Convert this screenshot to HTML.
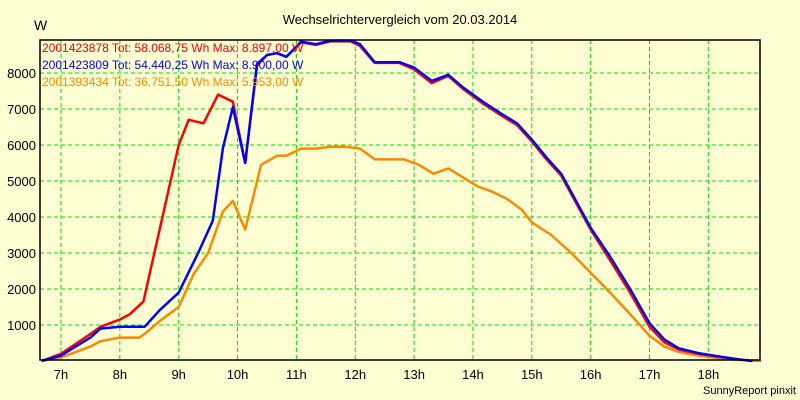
<!DOCTYPE html>
<html><head><meta charset="utf-8"><style>
body{margin:0;background:#ffffd4;}
svg{display:block;font-family:"Liberation Sans",sans-serif;}
</style></head><body>
<svg id="c" width="800" height="400">
<rect width="800" height="400" fill="#ffffd4"/>
<text x="400" y="24" text-anchor="middle" font-size="13">Wechselrichtervergleich vom 20.03.2014</text>
<text x="34" y="30" font-size="14">W</text>
<text x="796" y="394" text-anchor="end" font-size="11">SunnyReport pinxit</text>
<g id="grid"></g><g id="series"></g><g id="axes"></g>
<g font-size="12">
<text x="42" y="52" fill="#ff0000">2001423878 Tot: 58.068,75 Wh Max: 8.897,00 W</text>
<text x="42" y="69" fill="#0000ff">2001423809 Tot: 54.440,25 Wh Max: 8.900,00 W</text>
<text x="42" y="86" fill="#ff8800">2001393434 Tot: 36.751,50 Wh Max: 5.953,00 W</text>
</g>
</svg>
<script>
const xTicks=[7,8,9,10,11,12,13,14,15,16,17,18];
const yTicks=[1000,2000,3000,4000,5000,6000,7000,8000];
const redT=[6.67,7,7.5,7.67,8,8.17,8.4,9.0,9.17,9.42,9.67,9.92,10.13,10.33,10.5,10.67,10.83,11.08,11.33,11.58,11.92,12.08,12.33,12.75,13.0,13.3,13.58,13.83,14.17,14.5,14.75,15.0,15.25,15.5,15.75,16.0,16.33,16.67,17.0,17.25,17.5,17.83,18.17,18.5,18.75];
const redV=[0,200,750,950,1150,1300,1650,6000,6700,6600,7400,7200,5500,8200,8500,8550,8450,8850,8780,8880,8880,8750,8280,8280,8100,7720,7920,7560,7150,6800,6550,6100,5600,5150,4400,3650,2800,1900,950,520,320,200,120,50,0];
const blueT=[6.67,7,7.5,7.67,8,8.42,8.67,9.0,9.33,9.58,9.75,9.92,10.13,10.33,10.5,10.67,10.83,11.08,11.33,11.58,11.92,12.08,12.33,12.75,13.0,13.3,13.58,13.83,14.17,14.5,14.75,15.0,15.25,15.5,15.75,16.0,16.33,16.67,17.0,17.25,17.5,17.83,18.17,18.5,18.75];
const blueV=[0,150,650,900,950,950,1400,1900,3000,3900,5900,7050,5500,8250,8500,8550,8450,8870,8800,8900,8900,8800,8300,8300,8150,7780,7950,7600,7200,6850,6600,6150,5650,5200,4450,3700,2900,2000,1050,600,350,220,130,50,0];
const orangeT=[6.67,7,7.5,7.67,8,8.33,8.42,8.67,9.0,9.25,9.5,9.75,9.92,10.13,10.4,10.67,10.83,11.08,11.33,11.58,11.83,12.08,12.33,12.83,13.08,13.33,13.58,13.83,14.08,14.33,14.58,14.83,15.0,15.33,15.67,16.0,16.33,16.67,17.0,17.25,17.5,17.83,18.17,18.5,18.9];
const orangeV=[0,100,400,550,650,650,750,1100,1500,2400,3000,4150,4450,3650,5450,5700,5700,5900,5900,5950,5950,5900,5600,5600,5450,5200,5350,5100,4850,4700,4500,4200,3850,3500,3000,2450,1900,1300,700,400,250,150,80,30,0];
const L=40,R=760,T=40,B=360;
const xs=h=>61+(h-7)*58.85;
const ys=v=>361-v*0.036;
const ns="http://www.w3.org/2000/svg";
function mk(tag,attrs,parent){const e=document.createElementNS(ns,tag);for(const k in attrs)e.setAttribute(k,attrs[k]);parent.appendChild(e);return e;}
const grid=document.getElementById('grid'),axes=document.getElementById('axes'),ser=document.getElementById('series');
xTicks.forEach(h=>{
 const l=mk('line',{x1:xs(h),x2:xs(h),y1:T,y2:B,stroke:'#00e000','stroke-dasharray':'4,3'},grid);
 
 
 const t=mk('text',{x:xs(h),y:379,'text-anchor':'middle','font-size':'13'},axes);t.textContent=h+'h';
 
 
});
yTicks.forEach(v=>{
 const l=mk('line',{x1:L,x2:R,y1:ys(v),y2:ys(v),stroke:'#00e000','stroke-dasharray':'4,3'},grid);
 
 
 const t=mk('text',{x:36,y:ys(v)+5,'text-anchor':'end','font-size':'13'},axes);t.textContent=v;
 
 
});
const fr=mk('rect',{x:L,y:T,width:R-L,height:B-T,fill:'none',stroke:'#000','stroke-width':'1.5'},axes);


function line(ts,vs,col,name){
 const p=mk('polyline',{points:ts.map((t,i)=>xs(t)+','+ys(vs[i])).join(' '),fill:'none',stroke:col,'stroke-width':'2.5','stroke-linejoin':'round'},ser);
 
 
}
line(orangeT,orangeV,'#ff8800','series-2001393434');
line(redT,redV,'#ff0000','series-2001423878');
line(blueT,blueV,'#0000ff','series-2001423809');
</script>
</body></html>
